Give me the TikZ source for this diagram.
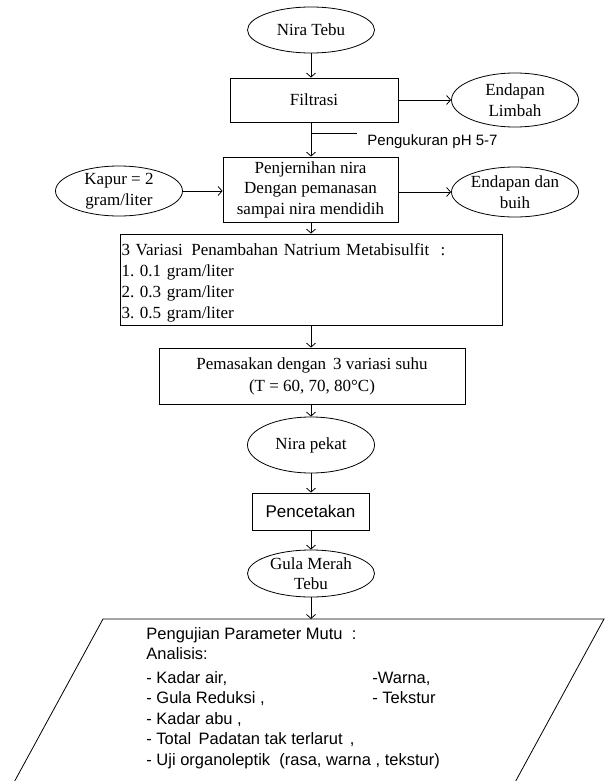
\documentclass[tikz,border=0pt]{standalone}
\usepackage{fontspec}
\setmainfont{Liberation Serif}
\setsansfont{Liberation Sans}
\usetikzlibrary{arrows.meta,shapes.geometric}
\frenchspacing

\begin{document}
\begin{tikzpicture}[x=1pt,y=-1pt,line width=0.8pt]
\useasboundingbox (0,0) rectangle (605,781);

\begin{scope}[every node/.style={ellipse,draw,inner sep=-4pt,align=center,
              minimum width=127pt,font=\fontsize{17}{20.5}\selectfont}]
    \node[minimum height=46pt] (nira_tebu) at (311,30) {Nira Tebu};
    \node[minimum height=54pt] (endapan_limbah) at (515,100) {Endapan\\Limbah};
    \node[minimum height=50pt] (kapur) at (119,191) {Kapur = 2\\gram/liter};
    \node[minimum height=50pt] (endapan_buih) at (515,192) {Endapan dan\\buih};
    \node[minimum height=56pt] (nira_pekat) at (311,445) {Nira pekat};
    \node[minimum height=47pt] (gula_merah) at (311,573.5) {Gula Merah\\Tebu};
\end{scope}

\begin{scope}[every node/.style={rectangle,draw,inner sep=0pt,align=center,
              font=\fontsize{17}{20.5}\selectfont}]
    \node[minimum width=168pt,minimum height=44pt] (filtrasi) at (314,100) {Filtrasi};
    \node[minimum width=175pt,minimum height=65pt] (penjernihan) at (310.5,189.5)
        {Penjernihan nira\\Dengan pemanasan\\sampai nira mendidih};
    \node[minimum width=382pt,minimum height=91pt,text width=379pt,align=left,
          font=\fontsize{17}{21}\selectfont] (variasi) at (311,279.5)
        {\rule{0pt}{19pt}3 Variasi\, Penambahan Natrium Metabisulfit\ \ :\\1. 0.1 gram/liter\\2. 0.3 gram/liter\\3. 0.5 gram/liter};
    \node[minimum width=306pt,minimum height=56pt,font=\fontsize{17}{22}\selectfont]
        (pemasakan) at (312,376)
        {Pemasakan dengan\, 3 variasi suhu\\(T = 60, 70, 80°C)};
    \node[minimum width=117pt,minimum height=37pt,font=\sffamily\fontsize{17}{20.5}\selectfont]
        (pencetakan) at (310.5,511.5) {Pencetakan};
\end{scope}

% uji mutu
\draw (103,619) -- (604,619) -- (513,786) -- (12,786) -- cycle;
\coordinate (uji_top) at (311,619);
\node[anchor=north west,inner sep=0pt,align=left,font=\sffamily\fontsize{16.5}{20.5}\selectfont]
    (uji_mutu) at (146,627)
    {Pengujian Parameter Mutu\ \ :\\Analisis:\\[3pt]
     \makebox[226pt][l]{- Kadar air,}-Warna,\\
     \makebox[226pt][l]{- Gula Reduksi ,}- Tekstur\\
     - Kadar abu ,\\
     - Total\, Padatan tak terlarut\, ,\\
     - Uji organoleptik\ \ (rasa, warna , tekstur)};

% pH
\coordinate (ph_tap) at (311,133);
\coordinate (ph_end) at (357,133);
\node[anchor=west,inner sep=0pt,font=\sffamily\fontsize{15}{18}\selectfont]
    (ph_label) at (367,142) {Pengukuran pH 5-7};

\begin{scope}[>={Straight Barb[length=4pt,width=9pt]},
              every edge/.style={draw,line width=0.8pt}]
    \path [->] (nira_tebu) edge (nira_tebu |- filtrasi.north);
    \path [->] (filtrasi) edge (endapan_limbah);
    \path [->] (nira_tebu |- filtrasi.south) edge (nira_tebu |- penjernihan.north);
    \path (ph_tap) edge (ph_end);
    \path [->] (kapur) edge (kapur -| penjernihan.west);
    \path [->] (penjernihan.east |- endapan_buih) edge (endapan_buih);
    \path [->] (nira_tebu |- penjernihan.south) edge (nira_tebu |- variasi.north);
    \path [->] (nira_tebu |- variasi.south) edge (nira_tebu |- pemasakan.north);
    \path [->] (nira_tebu |- pemasakan.south) edge (nira_pekat);
    \path [->] (nira_pekat) edge (nira_pekat |- pencetakan.north);
    \path [->] (nira_pekat |- pencetakan.south) edge (gula_merah);
    \path [->] (gula_merah) edge (uji_top);
\end{scope}
\end{tikzpicture}
\end{document}
